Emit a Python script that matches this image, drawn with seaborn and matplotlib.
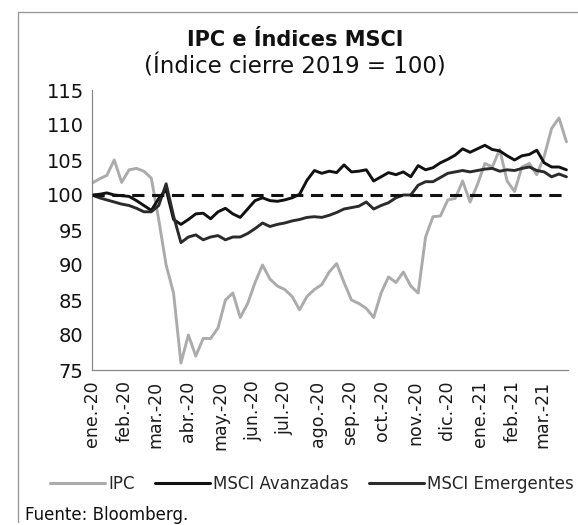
import numpy as np
import pandas as pd
import matplotlib
matplotlib.use("Agg")
import matplotlib.pyplot as plt
import matplotlib.dates as mdates
from matplotlib.transforms import ScaledTranslation
from matplotlib.lines import Line2D
import seaborn as sns

# ---- data (weekly readings, index close 2019 = 100) ----
start_date = "2020-01-01"
n_weeks = 65

ipc = [101.7, 102.3, 102.8, 105.0, 101.8, 103.6, 103.8, 103.4, 102.4, 96.5,
       90.0, 86.0, 76.0, 80.0, 77.0, 79.5, 79.5, 81.0, 85.0, 86.0,
       82.5, 84.5, 87.5, 90.0, 88.0, 87.0, 86.5, 85.5, 83.6, 85.5,
       86.5, 87.2, 89.0, 90.2, 87.5, 85.0, 84.5, 83.8, 82.5, 86.0,
       88.3, 87.5, 89.0, 87.0, 86.0, 94.0, 96.9, 97.0, 99.3, 99.5,
       102.0, 99.0, 101.5, 104.5, 104.0, 106.5, 102.0, 100.5, 104.0, 104.5,
       102.9, 105.5, 109.5, 111.0, 107.6]

msci_avanzadas = [100.0, 100.1, 100.3, 100.0, 99.9, 99.8, 99.2, 98.5, 97.8, 99.5,
                  100.8, 96.5, 95.8, 96.5, 97.3, 97.4, 96.6, 97.6, 98.1, 97.3,
                  96.8, 98.0, 99.2, 99.6, 99.2, 99.1, 99.3, 99.6, 100.1, 102.1,
                  103.5, 103.1, 103.4, 103.2, 104.3, 103.3, 103.4, 103.6, 102.0, 102.6,
                  103.2, 102.9, 103.3, 102.6, 104.2, 103.6, 103.9, 104.6, 105.1, 105.7,
                  106.6, 106.1, 106.6, 107.1, 106.5, 106.3, 105.6, 105.0, 105.6, 105.8,
                  106.4, 104.6, 104.0, 104.0, 103.6]

msci_emergentes = [100.0, 99.6, 99.3, 99.0, 98.7, 98.5, 98.1, 97.6, 97.6, 98.5,
                   101.6, 97.0, 93.2, 94.0, 94.3, 93.6, 94.0, 94.2, 93.6, 94.0,
                   94.0, 94.5, 95.2, 96.0, 95.5, 95.8, 96.0, 96.3, 96.5, 96.8,
                   96.9, 96.8, 97.1, 97.5, 98.0, 98.2, 98.4, 99.0, 98.0, 98.5,
                   98.9, 99.6, 100.0, 100.0, 101.4, 101.9, 101.9, 102.5, 103.1, 103.3,
                   103.5, 103.3, 103.5, 103.7, 103.8, 103.4, 103.6, 103.5, 103.8, 104.0,
                   103.5, 103.3, 102.6, 103.0, 102.6]

series_names = ["IPC", "MSCI Avanzadas", "MSCI Emergentes"]
month_labels = ["ene.-20", "feb.-20", "mar.-20", "abr.-20", "may.-20", "jun.-20",
                "jul.-20", "ago.-20", "sep.-20", "oct.-20", "nov.-20", "dic.-20",
                "ene.-21", "feb.-21", "mar.-21"]
y_ticks = [75, 80, 85, 90, 95, 100, 105, 110, 115]
base_level = 100

dates = pd.date_range(start_date, periods=n_weeks, freq="7D")
df = pd.concat([
    pd.DataFrame({"fecha": dates, "valor": ipc, "serie": series_names[0]}),
    pd.DataFrame({"fecha": dates, "valor": msci_avanzadas, "serie": series_names[1]}),
    pd.DataFrame({"fecha": dates, "valor": msci_emergentes, "serie": series_names[2]}),
], ignore_index=True)

# ---- style ----
sns.set_theme(style="white")
plt.rcParams["font.family"] = ["DejaVu Sans"]

palette = {"IPC": "#ababab", "MSCI Avanzadas": "#111111", "MSCI Emergentes": "#2b2b2b"}

fig = plt.figure(figsize=(5.78, 5.25), dpi=100)
ax = fig.add_axes([92/578, 1-370/525, (568-92)/578, (370-90)/525])

sns.lineplot(data=df, x="fecha", y="valor", hue="serie", palette=palette,
             hue_order=series_names, linewidth=2.1, ax=ax, legend=False)
ax.axhline(base_level, color="#111111", lw=2.2, ls=(0, (4, 2.5)), zorder=5)

ax.set_ylim(75, 115)
ax.set_yticks(y_ticks)
ax.set_xlim(pd.Timestamp("2020-01-01"), pd.Timestamp("2021-03-25 12:00"))
month_ticks = pd.date_range("2020-01-01", "2021-03-01", freq="MS")
ax.set_xticks(month_ticks)
ax.set_xticklabels(month_labels, rotation=90, fontsize=12.5, color="#1a1a1a")
for lab in ax.get_xticklabels():
    lab.set_transform(lab.get_transform() + ScaledTranslation(4/100, 0, fig.dpi_scale_trans))
ax.tick_params(axis="y", labelsize=14, labelcolor="#111111", pad=2)
ax.tick_params(axis="both", direction="inout", length=8, width=0.8, color="#777777")
ax.set_xlabel("")
ax.set_ylabel("")
for s in ["top", "right"]:
    ax.spines[s].set_visible(False)
for s in ["left", "bottom"]:
    ax.spines[s].set_color("#888888")
    ax.spines[s].set_linewidth(0.9)

# ---- title ----
fig.text(0.51, 1-40/525, "IPC e Índices MSCI", ha="center", va="center",
         fontsize=15, fontweight="bold", color="#111111")
fig.text(0.51, 1-66/525, "(Índice cierre 2019 = 100)", ha="center", va="center",
         fontsize=16.5, color="#111111")

# ---- legend ----
handles = [Line2D([0], [0], color=palette[n], lw=2.2) for n in series_names]
fig.legend(handles, series_names, loc="center", bbox_to_anchor=(0.54, 1-484/525),
           ncol=3, frameon=False, fontsize=12, handlelength=3.3, handletextpad=0.2,
           columnspacing=1.2)

fig.text(25/578, 1-515/525, "Fuente: Bloomberg.", ha="left", va="center",
         fontsize=12, color="#111111")

# ---- frame lines of the scanned box ----
fig.add_artist(Line2D([18/578, 18/578], [0.006, 1-12/525], transform=fig.transFigure,
                      color="#9a9a9a", lw=1))
fig.add_artist(Line2D([18/578, 1], [1-12/525, 1-12/525], transform=fig.transFigure,
                      color="#9a9a9a", lw=1))

fig.savefig("out.png", dpi=100)
